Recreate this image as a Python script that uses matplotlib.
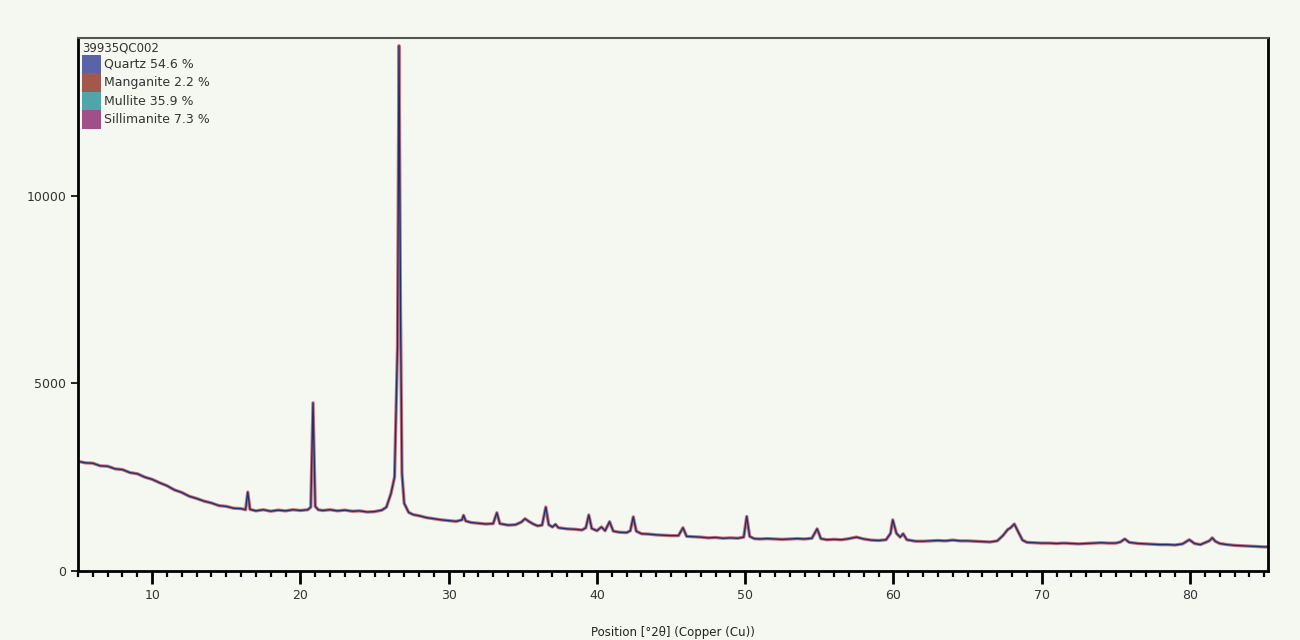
import matplotlib
matplotlib.use("Agg")
import matplotlib.pyplot as plt
from matplotlib.patches import Patch
from matplotlib.ticker import MultipleLocator

two_theta = [
    5.0, 5.5, 6.0, 6.5, 7.0, 7.5, 8.0, 8.5, 9.0, 9.5, 10.0, 10.5, 11.0, 11.5, 12.0,
    12.5, 13.0, 13.5, 14.0, 14.5, 15.0, 15.5, 16.0, 16.3, 16.45, 16.6, 17.0, 17.5,
    18.0, 18.5, 19.0, 19.5, 20.0, 20.5, 20.7, 20.85, 21.0, 21.2, 21.5, 22.0, 22.5,
    23.0, 23.5, 24.0, 24.5, 25.0, 25.5, 25.8, 26.1, 26.35, 26.55, 26.65, 26.75,
    26.85, 27.0, 27.3, 27.6, 28.0, 28.5, 29.0, 29.5, 30.0, 30.5, 30.9, 31.0, 31.15,
    31.5, 32.0, 32.5, 33.0, 33.25, 33.45, 34.0, 34.5, 34.9, 35.15, 35.4, 35.7, 36.0,
    36.3, 36.55, 36.75, 37.0, 37.2, 37.4, 38.0, 38.5, 39.0, 39.25, 39.45, 39.65,
    40.0, 40.3, 40.55, 40.85, 41.1, 41.5, 42.0, 42.25, 42.45, 42.65, 43.0, 43.5,
    44.0, 44.5, 45.0, 45.5, 45.8, 46.05, 46.5, 47.0, 47.5, 48.0, 48.5, 49.0, 49.5,
    49.9, 50.1, 50.3, 50.6, 51.0, 51.5, 52.0, 52.5, 53.0, 53.5, 54.0, 54.5, 54.85,
    55.1, 55.5, 56.0, 56.5, 57.0, 57.5, 58.0, 58.5, 59.0, 59.5, 59.8, 59.95, 60.2,
    60.45, 60.65, 60.9, 61.5, 62.0, 62.5, 63.0, 63.5, 64.0, 64.5, 65.0, 65.5, 66.0,
    66.5, 67.0, 67.4, 67.7, 67.9, 68.15, 68.4, 68.7, 69.0, 69.5, 70.0, 70.5, 71.0,
    71.5, 72.0, 72.5, 73.0, 73.5, 74.0, 74.5, 75.0, 75.3, 75.6, 75.9, 76.5, 77.0,
    77.5, 78.0, 78.5, 79.0, 79.5, 79.95, 80.3, 80.7, 81.0, 81.3, 81.5, 81.7, 82.0,
    82.5, 83.0, 83.5, 84.0, 84.5, 85.0, 85.3,
]
counts = [
    2920, 2880, 2870, 2800, 2790, 2720, 2700, 2620, 2590, 2500, 2440, 2350, 2270, 2160, 2090,
    1990, 1930, 1860, 1810, 1740, 1720, 1670, 1660, 1630, 2100, 1640, 1600, 1630,
    1590, 1620, 1600, 1630, 1610, 1630, 1700, 4480, 1720, 1630, 1610, 1630, 1600,
    1620, 1590, 1600, 1570, 1580, 1620, 1700, 2050, 2500, 6000, 14000, 7000,
    2600, 1800, 1560, 1500, 1470, 1420, 1390, 1360, 1340, 1320, 1360, 1480, 1330,
    1290, 1270, 1250, 1260, 1550, 1260, 1220, 1230, 1300, 1390, 1320, 1250, 1200,
    1220, 1700, 1230, 1170, 1240, 1150, 1120, 1110, 1090, 1150, 1490, 1130,
    1070, 1170, 1070, 1310, 1060, 1030, 1020, 1070, 1440, 1060, 990, 980,
    960, 950, 940, 940, 1150, 920, 910, 900, 880, 890, 870, 880, 870,
    900, 1450, 920, 860, 850, 860, 850, 840, 850, 860, 850, 870, 1120,
    860, 830, 840, 830, 860, 900, 850, 820, 810, 830, 1000, 1360, 1000,
    900, 990, 830, 790, 790, 800, 810, 800, 820, 800, 800, 790, 780,
    770, 800, 950, 1100, 1150, 1250, 1050, 820, 760, 750, 740, 740, 730,
    740, 730, 720, 730, 740, 750, 740, 740, 770, 850, 760, 730, 720,
    710, 700, 700, 690, 720, 830, 730, 700, 750, 800, 880, 790, 730,
    700, 680, 670, 660, 650, 640, 640,
]

sample_name = "39935QC002"
phases = ["Quartz 54.6 %", "Manganite 2.2 %", "Mullite 35.9 %", "Sillimanite 7.3 %"]
phase_colors = ["#5a62a8", "#a3584c", "#4fa6a8", "#a04f88"]

bg = "#f5f7f1"
fig = plt.figure(figsize=(13, 6.4), dpi=100, facecolor=bg)
ax = fig.add_axes([0.06, 0.108, 0.9154, 0.8328], facecolor=bg)

ax.plot(two_theta, counts, color="#b44a5a", lw=2.4, alpha=0.75)
ax.plot(two_theta, counts, color="#22306a", lw=1.0)

ax.set_xlim(5.0, 85.26)
ax.set_ylim(0, 14210)
ax.set_yticks([0, 5000, 10000])
ax.xaxis.set_major_locator(MultipleLocator(10))
ax.xaxis.set_minor_locator(MultipleLocator(1))
ax.tick_params(axis="x", which="major", length=9, width=2, labelsize=9,
               labelcolor="#333333", pad=4)
ax.tick_params(axis="x", which="minor", length=4, width=1.6)
ax.tick_params(axis="y", length=5, width=1.2, labelsize=9, labelcolor="#333333")
for side in ["left", "bottom", "right"]:
    ax.spines[side].set_linewidth(2)
ax.spines["top"].set_linewidth(1.5)
ax.spines["top"].set_color("#555555")

ax.set_xlabel("Position [°2θ] (Copper (Cu))", fontsize=8.5, color="#222222", labelpad=17)

handles = [Patch(facecolor=c, edgecolor="none") for c in phase_colors]
leg = ax.legend(handles, phases, title=sample_name, loc="upper left",
                bbox_to_anchor=(0.0, 1.0), frameon=False, fontsize=9,
                title_fontsize=8.5, handlelength=1.55, handleheight=1.9,
                labelspacing=0.0, handletextpad=0.25, borderpad=0.2,
                borderaxespad=0.1, alignment="left")
for t in leg.get_texts():
    t.set_color("#333333")
leg.get_title().set_color("#333333")

fig.savefig("out.png", dpi=100, facecolor=bg)
